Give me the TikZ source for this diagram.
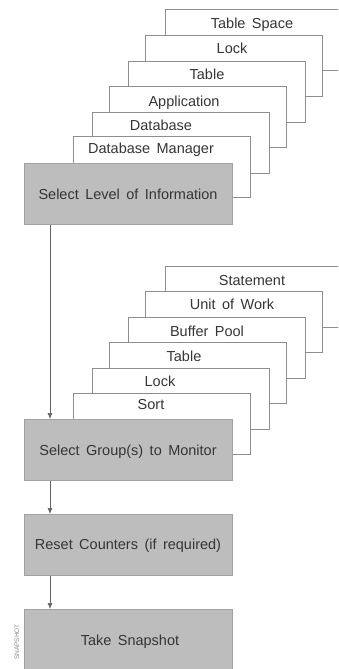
\documentclass[tikz,border=0pt]{standalone}
\usepackage{fontspec}
\setmainfont[WordSpace=1.6]{Liberation Sans}
\usetikzlibrary{arrows.meta}
\definecolor{boxgray}{HTML}{BDBDBD}
\definecolor{linegray}{HTML}{8E8E8E}
\definecolor{inkgray}{HTML}{353535}
\begin{document}
\begin{tikzpicture}[x=1pt,y=-1pt,
  card/.style={draw=linegray, line width=0.8pt, fill=white, anchor=north west,
    minimum width=177pt, minimum height=61pt, inner sep=0pt},
  stepbox/.style={draw=boxgray!85!black, line width=0.6pt, fill=boxgray, anchor=north west,
    minimum width=208pt, minimum height=61pt, inner sep=0pt},
  label/.style={text=inkgray, font=\fontsize{14.5}{16}\selectfont, inner sep=0pt, anchor=base},
  flow/.style={draw=linegray!70!black, line width=0.7pt, -{Latex[length=6pt,width=5pt]}}]
\useasboundingbox (0,0) rectangle (338,669);
\begin{scope}
\clip (0,0) rectangle (338,669);

% first stack: levels of information
\node[card] (ts)  at (165,9)   {};
\node[card] (lk1) at (145,35)  {};
\node[card] (tb1) at (128,61)  {};
\node[card] (ap)  at (109,86)  {};
\node[card] (db)  at (92,112)  {};
\node[card] (dm)  at (73,136)  {};
\node[label] (tst)  at (252,29)  {Table Space};
\node[label] (lk1t) at (232,53)  {Lock};
\node[label] (tb1t) at (207,79)  {Table};
\node[label] (apt)  at (184,106) {Application};
\node[label] (dbt)  at (161,130) {Database};
\node[label] (dmt)  at (151,153) {Database Manager};
\node[stepbox] (g1) at (24,163) {};
\node[label] (g1t) at (128,199) {Select Level of Information};

% second stack: monitor groups
\node[card] (st)  at (165,266) {};
\node[card] (uw)  at (145,291) {};
\node[card] (bp)  at (128,317) {};
\node[card] (tb2) at (109,342) {};
\node[card] (lk2) at (92,368)  {};
\node[card] (so)  at (73,393)  {};
\node[label] (stt)  at (252,285) {Statement};
\node[label] (uwt)  at (232,309) {Unit of Work};
\node[label] (bpt)  at (207,336) {Buffer Pool};
\node[label] (tb2t) at (184,361) {Table};
\node[label] (lk2t) at (160,386) {Lock};
\node[label] (sot)  at (151,409) {Sort};
\node[stepbox] (g2) at (24,419) {};
\node[label] (g2t) at (128,455) {Select Group(s) to Monitor};

% remaining steps
\node[stepbox] (g3) at (24,514) {};
\node[label] (g3t) at (128,549) {Reset Counters (if required)};
\node[stepbox] (g4) at (24,609) {};
\node[label] (g4t) at (130,645) {Take Snapshot};

\node[text=linegray, font=\fontsize{6.5}{7}\selectfont, rotate=90, inner sep=0pt] (tag) at (17,642) {SNAPSHOT};

% flow arrows
\coordinate (ax) at (50,0);
\draw[flow] (g1.south -| ax) -- (g2.north -| ax);
\draw[flow] (g2.south -| ax) -- (g3.north -| ax);
\draw[flow] (g3.south -| ax) -- (g4.north -| ax);
\end{scope}
\end{tikzpicture}
\end{document}
